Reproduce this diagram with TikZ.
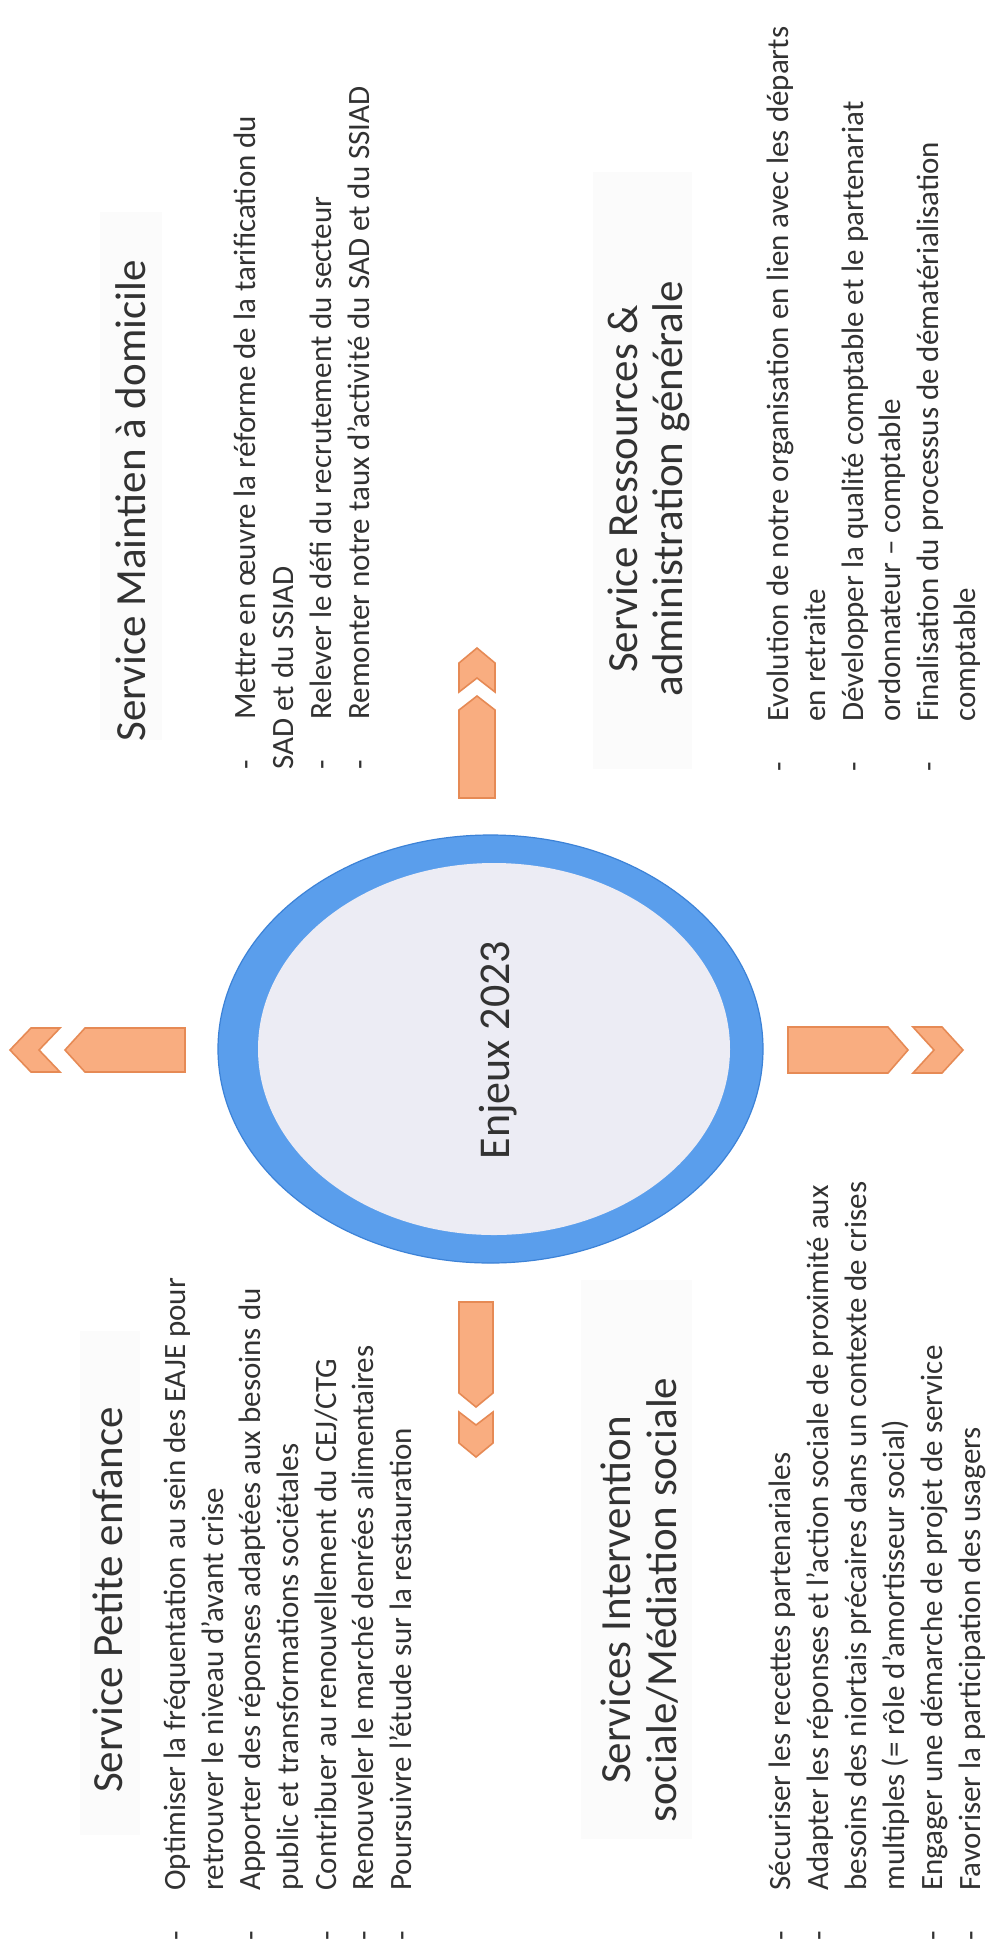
\documentclass[tikz,border=0pt]{standalone}
\usepackage{fontspec}
\setmainfont{Carlito}
\definecolor{txt}{RGB}{50,50,50}
\definecolor{ringblue}{RGB}{90,158,236}
\definecolor{ringedge}{RGB}{60,130,215}
\definecolor{innerfill}{RGB}{236,236,244}
\definecolor{arrfill}{RGB}{249,173,128}
\definecolor{arredge}{RGB}{230,138,85}
\definecolor{titlebox}{RGB}{251,251,251}
\newcommand{\itemdash}{\makebox[25pt][l]{-}}
\newcommand{\itemgap}{\hspace*{25pt}}
\begin{document}
\begin{tikzpicture}[x=0.5pt,y=-0.5pt,
  body/.style={rotate=90, anchor=base west, inner sep=0pt, text=txt, font=\fontsize{15.5}{19}\selectfont},
  ttl/.style={rotate=90, anchor=base, inner sep=0pt, text=txt, font=\fontsize{21.5}{23}\selectfont},
  blockarrow/.style={fill=arrfill, draw=arredge, line width=0.8pt, line join=miter},
  tbox/.style={fill=titlebox, draw=none}]
\useasboundingbox (0,0) rectangle (992,1955);
\fill[white] (0,0) rectangle (992,1955);

% faint title boxes
\fill[tbox] (100,212) rectangle (162,740);
\fill[tbox] (80,1331) rectangle (140,1835);
\fill[tbox] (593,172) rectangle (692,769);
\fill[tbox] (581,1280) rectangle (692,1839);

% central ellipse
\filldraw[fill=ringblue, draw=ringedge, line width=0.6pt] (490.5,1049) ellipse [x radius=272.5, y radius=214];
\fill[innerfill] (494,1049) ellipse [x radius=236, y radius=186];
\node[ttl, font=\fontsize{22}{24}\selectfont] (enjeux) at (509,1050) {Enjeux 2023};

% arrows
% left
\filldraw[blockarrow] (185,1028) -- (85,1028) -- (65,1050) -- (85,1072) -- (185,1072) -- cycle;
\filldraw[blockarrow] (60,1028) -- (31,1028) -- (10,1050) -- (31,1072) -- (60,1072) -- (39,1050) -- cycle;
% right
\filldraw[blockarrow] (788,1027) -- (888,1027) -- (908,1050) -- (888,1073) -- (788,1073) -- cycle;
\filldraw[blockarrow] (913,1027) -- (942,1027) -- (963,1050) -- (942,1073) -- (913,1073) -- (934,1050) -- cycle;
% up
\filldraw[blockarrow] (477,648) -- (495,663) -- (495,692) -- (477,678) -- (459,692) -- (459,663) -- cycle;
\filldraw[blockarrow] (477,696) -- (495,710) -- (495,798) -- (459,798) -- (459,710) -- cycle;
% down
\filldraw[blockarrow] (459,1302) -- (493,1302) -- (493,1393) -- (476,1407) -- (459,1393) -- cycle;
\filldraw[blockarrow] (459,1412) -- (476,1425) -- (493,1412) -- (493,1443) -- (476,1457) -- (459,1443) -- cycle;

% titles
\node[ttl] (tmd) at (145,501) {Service Maintien à domicile};
\node[ttl] (tpe) at (122,1600) {Service Petite enfance};
\node[ttl] (tra1) at (637,489) {Service Ressources \&};
\node[ttl] (tra2) at (682,489) {administration générale};
\node[ttl] (tsi1) at (630,1600) {Services Intervention};
\node[ttl] (tsi2) at (676,1600) {sociale/Médiation sociale};

% Maintien a domicile
\node[body] (md1) at (255,770) {\itemdash Mettre en œuvre la réforme de la tarification du};
\node[body] (md2) at (293,770) {SAD et du SSIAD};
\node[body] (md3) at (331,770) {\itemdash Relever le défi du recrutement du secteur};
\node[body] (md4) at (369,770) {\itemdash Remonter notre taux d’activité du SAD et du SSIAD};

% Petite enfance
\node[body] (pe1) at (185,1941) {\itemdash Optimiser la fréquentation au sein des EAJE pour};
\node[body] (pe2) at (223,1941) {\itemgap retrouver le niveau d’avant crise};
\node[body] (pe3) at (260,1941) {\itemdash Apporter des réponses adaptées aux besoins du};
\node[body] (pe4) at (298,1941) {\itemgap public et transformations sociétales};
\node[body] (pe5) at (336,1941) {\itemdash Contribuer au renouvellement du CEJ/CTG};
\node[body] (pe6) at (373,1941) {\itemdash Renouveler le marché denrées alimentaires};
\node[body] (pe7) at (411,1941) {\itemdash Poursuivre l’étude sur la restauration};

% Ressources
\node[body] (ra1) at (788,772) {\itemdash Evolution de notre organisation en lien avec les départs};
\node[body] (ra2) at (825.5,772) {\itemgap en retraite};
\node[body] (ra3) at (863,772) {\itemdash Développer la qualité comptable et le partenariat};
\node[body] (ra4) at (900.5,772) {\itemgap ordonnateur – comptable};
\node[body] (ra5) at (938,772) {\itemdash Finalisation du processus de dématérialisation};
\node[body] (ra6) at (975.5,772) {\itemgap comptable};

% Intervention sociale
\node[body] (si1) at (790,1941) {\itemdash Sécuriser les recettes partenariales};
\node[body] (si2) at (828,1941) {\itemdash Adapter les réponses et l’action sociale de proximité aux};
\node[body] (si3) at (866,1941) {\itemgap besoins des niortais précaires dans un contexte de crises};
\node[body] (si4) at (904,1941) {\itemgap multiples (= rôle d’amortisseur social)};
\node[body] (si5) at (942,1941) {\itemdash Engager une démarche de projet de service};
\node[body] (si6) at (980,1941) {\itemdash Favoriser la participation des usagers};
\end{tikzpicture}
\end{document}
